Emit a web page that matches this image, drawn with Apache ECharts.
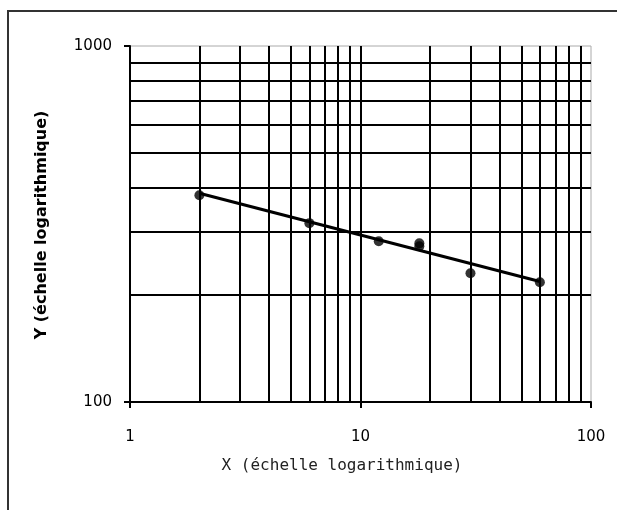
<!DOCTYPE html>
<html>
<head>
<meta charset="utf-8">
<script src="https://cdn.jsdelivr.net/npm/echarts@6/dist/echarts.min.js"></script>
<style>
  html, body { margin: 0; padding: 0; background: #fff; }
  #chart { width: 617px; height: 510px; }
</style>
</head>
<body>
<div id="chart"></div>
<script>
// grid lines inside the plot (minor log divisions + the 10 decade)
var gridX = [2, 3, 4, 5, 6, 7, 8, 9, 10, 20, 30, 40, 50, 60, 70, 80, 90];
var gridY = [200, 300, 400, 500, 600, 700, 800, 900];

// measured points
var pointX = [2, 6, 12, 18, 18, 30, 60];
var pointY = [381, 318, 283, 279, 274, 230, 217];

// fitted power line, ends
var trendX = [2, 60];
var trendY = [386, 218];

var myChart = echarts.init(document.getElementById('chart'));

var points = [];
for (var i = 0; i < pointX.length; i++) {
  points.push([pointX[i], pointY[i]]);
}
var trend = [];
for (var j = 0; j < trendX.length; j++) {
  trend.push([trendX[j], trendY[j]]);
}
var gridLines = [];
gridX.forEach(function (v) { gridLines.push({ xAxis: v }); });
gridY.forEach(function (v) { gridLines.push({ yAxis: v }); });

var axisFont = { color: '#000', fontFamily: 'DejaVu Sans', fontSize: 15 };

var option = {
  animation: false,
  grid: {
    left: 130, right: 26, top: 46, bottom: 108,
    show: true, borderColor: '#aaa', borderWidth: 1
  },
  xAxis: {
    type: 'log', logBase: 10, min: 1, max: 100,
    axisLine: { lineStyle: { color: '#000', width: 2 } },
    axisTick: { length: 6, lineStyle: { color: '#000', width: 2 } },
    axisLabel: Object.assign({ margin: 28, formatter: function (v) { return String(v); } }, axisFont),
    splitLine: { show: false }
  },
  yAxis: {
    type: 'log', logBase: 10, min: 100, max: 1000,
    axisLine: { lineStyle: { color: '#000', width: 2 } },
    axisTick: { length: 6, lineStyle: { color: '#000', width: 2 } },
    axisLabel: Object.assign({ margin: 18, formatter: function (v) { return String(v); } }, axisFont),
    splitLine: { show: false }
  },
  graphic: [
    {
      type: 'rect',
      shape: { x: 8, y: 11, width: 700, height: 600 },
      style: { fill: 'none', stroke: '#333', lineWidth: 2 }
    },
    {
      type: 'text', x: 42, y: 225, rotation: Math.PI / 2,
      style: {
        text: 'Y (échelle logarithmique)',
        font: 'bold 16px "DejaVu Sans"',
        fill: '#000', align: 'center', verticalAlign: 'middle'
      }
    },
    {
      type: 'text', x: 342, y: 466,
      style: {
        text: 'X (échelle logarithmique)',
        font: '16px "DejaVu Sans Mono"',
        fill: '#222', align: 'center', verticalAlign: 'middle'
      }
    }
  ],
  series: [
    {
      type: 'line', data: [], z: 1, silent: true,
      markLine: {
        silent: true, symbol: 'none', animation: false,
        label: { show: false },
        lineStyle: { color: '#000', width: 2, type: 'solid' },
        data: gridLines
      }
    },
    {
      type: 'line', data: trend, z: 2, showSymbol: false,
      lineStyle: { color: '#000', width: 3 }
    },
    {
      type: 'scatter', data: points, z: 3,
      symbol: 'circle', symbolSize: 10,
      itemStyle: { color: '#000' }
    }
  ]
};

myChart.setOption(option);
</script>
</body>
</html>
